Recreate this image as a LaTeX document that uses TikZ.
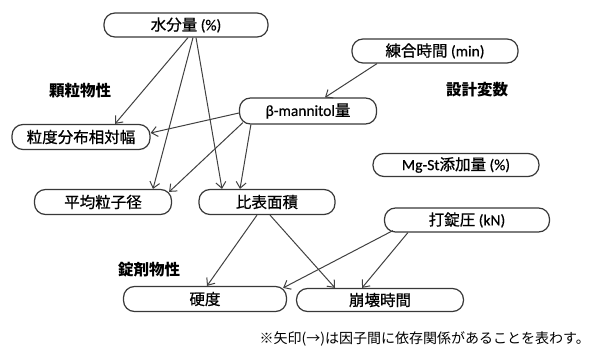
\documentclass[tikz,border=0pt]{standalone}
\usepackage{fontspec}
\setmainfont{Carlito}[FakeBold=0.6]
\newfontfamily\jp{Noto Sans CJK JP}[FakeBold=0.8]
\newfontfamily\jpr{Noto Sans CJK JP}
\usetikzlibrary{arrows.meta}
\tikzset{
  box/.style={draw=black!78, line width=1.2pt, rounded corners=11pt, minimum height=24pt, inner sep=0pt, font=\fontsize{15.5}{17}\selectfont},
  lbl/.style={inner sep=0pt, font=\fontsize{15.5}{17}\selectfont\jpr\bfseries},
  arr/.style={draw=black!75, line width=1pt, -{Straight Barb[length=6pt,width=10pt]}}
}
\begin{document}
\begin{tikzpicture}[x=1pt,y=-1pt]
\useasboundingbox (0,0) rectangle (591,347);
\node[box, minimum width=164pt] (water) at (186,25) {{\jp 水分量} (\%)};
\node[box, minimum width=166pt] (mix) at (435,51) {{\jp 練合時間} (min)};
\node[box, minimum width=137pt, minimum height=26pt] (mann) at (308,111) {β-mannitol{\jp 量}};
\node[box, minimum width=138pt, minimum height=25pt] (psd) at (81,137) {\jp 粒度分布相対幅};
\node[box, minimum width=166pt, minimum height=23pt] (mgst) at (456,165) {Mg-St{\jp 添加量} (\%)};
\node[box, minimum width=137pt, minimum height=25pt] (mean) at (103,202) {\jp 平均粒子径};
\node[box, minimum width=136pt, minimum height=25pt] (ssa) at (267,202) {\jp 比表面積};
\node[box, minimum width=165pt] (press) at (467,220) {{\jp 打錠圧} (kN)};
\node[box, minimum width=163pt, minimum height=25pt] (hard) at (205,299) {\jp 硬度};
\node[box, minimum width=167pt, minimum height=23pt] (disint) at (380,300) {\jp 崩壊時間};

\node[lbl] (l1) at (80,91) {顆粒物性};
\node[lbl] (l2) at (477,90) {設計変数};
\node[lbl] (l3) at (149,270) {錠剤物性};
\node[inner sep=0pt, anchor=east, font=\fontsize{14}{16}\selectfont\jpr] (note) at (590,339) {※矢印(→)は因子間に依存関係があることを表わす。};

\draw[arr] ([xshift=2pt]water.south) -- ([xshift=34pt]psd.north);
\draw[arr] ([xshift=7pt]water.south) -- ([xshift=50pt]mean.north);
\draw[arr] ([xshift=10pt]water.south) -- ([xshift=-45pt]ssa.north);
\draw[arr] ([xshift=-58pt]mix.south) -- ([xshift=17pt]mann.north);
\draw[arr] ([yshift=-2pt]mann.west) -- ([yshift=4pt]psd.east);
\draw[arr] ([xshift=4pt,yshift=2pt]mann.south west) -- ([xshift=-3pt,yshift=-3pt]mean.north east);
\draw[arr] ([xshift=12pt]mann.south west) -- ([xshift=-27pt]ssa.north);
\draw[arr] ([xshift=-10pt]ssa.south) -- ([xshift=2pt]hard.north);
\draw[arr] ([xshift=3pt]ssa.south) -- ([xshift=-45pt]disint.north);
\draw[arr] ([xshift=9pt,yshift=2pt]press.south west) -- ([xshift=-4pt,yshift=-2pt]hard.north east);
\draw[arr] ([xshift=24pt]press.south west) -- ([xshift=-18pt]disint.north);
\end{tikzpicture}
\end{document}
